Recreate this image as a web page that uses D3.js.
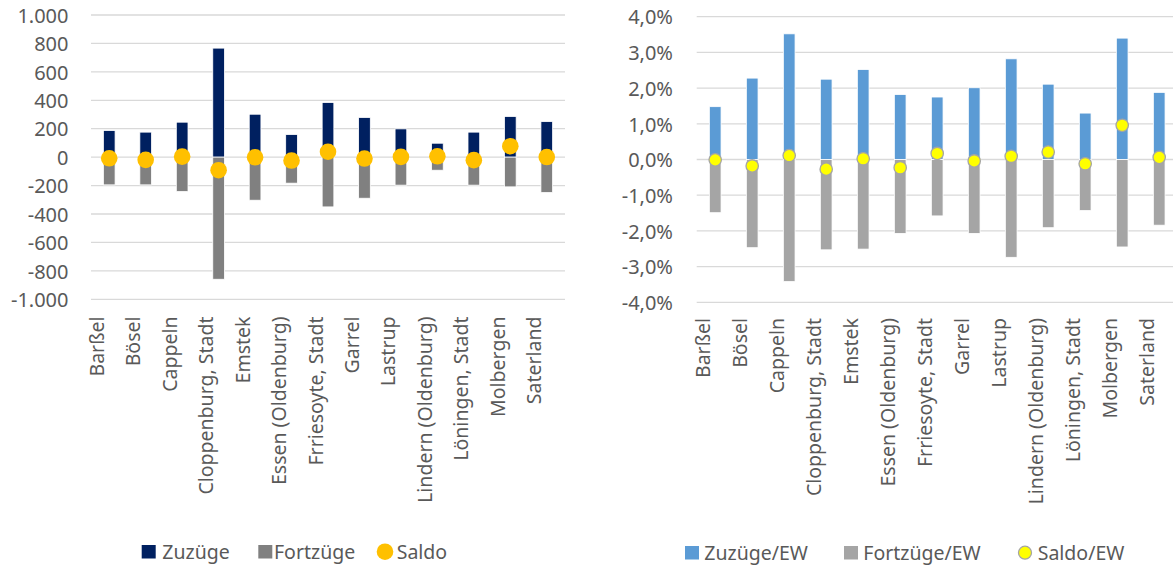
<!DOCTYPE html>
<html>
<head>
<meta charset="utf-8">
<script src="https://cdn.jsdelivr.net/npm/d3@7/dist/d3.min.js"></script>
<style>
  html, body { margin: 0; padding: 0; background: #fff; }
  svg { display: block; font-family: "Noto Sans", "Open Sans", sans-serif; }
</style>
</head>
<body>
<svg id="chart" width="1173" height="566"></svg>
<script>
// Gemeinden im Landkreis Cloppenburg
const gemeinden = ["Barßel", "Bösel", "Cappeln", "Cloppenburg, Stadt", "Emstek",
  "Essen (Oldenburg)", "Frriesoyte, Stadt", "Garrel", "Lastrup",
  "Lindern (Oldenburg)", "Löningen, Stadt", "Molbergen", "Saterland"];

// Absolute Wanderungen (Personen)
const zuzuege   = [187, 176, 246, 767, 302, 159, 384, 279, 199, 98, 176, 286, 250];
const fortzuege = [-195, -195, -242, -859, -303, -183, -350, -289, -197, -92, -197, -209, -249];
const saldo     = [-8, -19, 4, -92, -1, -24, 38, -10, 2, 6, -21, 77, 1];

// Wanderungen je Einwohner
const zuzuegeEW   = [0.0148, 0.0228, 0.0352, 0.0225, 0.0252, 0.0182, 0.0175, 0.0201, 0.0282, 0.0211, 0.0130, 0.0340, 0.0188];
const fortzuegeEW = [-0.0149, -0.0247, -0.0342, -0.0253, -0.0251, -0.0207, -0.0158, -0.0207, -0.0274, -0.0191, -0.0143, -0.0245, -0.0184];
const saldoEW     = [-0.0001, -0.0018, 0.0011, -0.0027, 0.0002, -0.0023, 0.0017, -0.0004, 0.0009, 0.0021, -0.0012, 0.0096, 0.0006];

// Achsenbeschriftung
const ticksAbs = [-1000, -800, -600, -400, -200, 0, 200, 400, 600, 800, 1000];
const ticksEW  = [-0.04, -0.03, -0.02, -0.01, 0, 0.01, 0.02, 0.03, 0.04];

const legendAbs = ["Zuzüge", "Fortzüge", "Saldo"];
const legendEW  = ["Zuzüge/EW", "Fortzüge/EW", "Saldo/EW"];

const de = d3.formatLocale({ decimal: ",", thousands: ".", grouping: [3], currency: ["", " €"], minus: "-" });
const fmtAbs = de.format(",d");
const fmtPct = de.format(".1%");

const svg = d3.select("#chart");
const textColor = "#595959";
const gridColor = "#d9d9d9";

function drawPanel(cfg) {
  const g = svg.append("g");
  const x = d3.scaleBand().domain(gemeinden).range(cfg.xRange).paddingInner(0).paddingOuter(0);
  const y = d3.scaleLinear().domain(cfg.yDomain).range(cfg.yRange);
  const barW = 11.7;

  // Gitternetzlinien
  g.append("g").selectAll("line").data(cfg.ticks).join("line")
    .attr("x1", cfg.xRange[0]).attr("x2", cfg.xRange[1])
    .attr("y1", d => y(d)).attr("y2", d => y(d))
    .attr("stroke", gridColor).attr("stroke-width", 1.3);

  // y-Achse
  const yAxis = d3.axisLeft(y).tickValues(cfg.ticks).tickFormat(cfg.fmt).tickSize(0).tickPadding(0);
  const ya = g.append("g").attr("transform", `translate(${cfg.labelX},0)`).call(yAxis);
  ya.select(".domain").remove();
  ya.selectAll("text").attr("fill", textColor).attr("font-size", 20)
    .attr("font-family", "Noto Sans").attr("dy", "0.36em");

  // Balken: Zuzüge (positiv) und Fortzüge (negativ)
  g.append("g").selectAll("rect").data(gemeinden).join("rect")
    .attr("x", d => x(d) + x.bandwidth() / 2 - barW / 2)
    .attr("width", barW)
    .attr("y", (d, i) => y(cfg.pos[i]))
    .attr("height", (d, i) => y(0) - y(cfg.pos[i]))
    .attr("fill", cfg.colors[0]).attr("stroke", "#fff").attr("stroke-width", 0.8);
  g.append("g").selectAll("rect").data(gemeinden).join("rect")
    .attr("x", d => x(d) + x.bandwidth() / 2 - barW / 2)
    .attr("width", barW)
    .attr("y", y(0))
    .attr("height", (d, i) => y(cfg.neg[i]) - y(0))
    .attr("fill", cfg.colors[1]).attr("stroke", "#fff").attr("stroke-width", 0.8);

  // Saldo-Punkte
  g.append("g").selectAll("circle").data(gemeinden).join("circle")
    .attr("cx", d => x(d) + x.bandwidth() / 2)
    .attr("cy", (d, i) => y(cfg.net[i]))
    .attr("r", cfg.dotR)
    .attr("fill", cfg.colors[2])
    .attr("stroke", cfg.dotStroke || "none")
    .attr("stroke-width", cfg.dotStroke ? 1.3 : 0);

  // Kategorien, senkrecht
  g.append("g").selectAll("text").data(gemeinden).join("text")
    .attr("transform", d => `translate(${x(d) + x.bandwidth() / 2 - 5.5},${cfg.catY}) rotate(-90)`)
    .attr("text-anchor", "end")
    .attr("fill", textColor).attr("font-size", 19.5)
    .text(d => d);

  // Legende
  const lg = g.append("g");
  cfg.legend.forEach((name, i) => {
    const lx = cfg.legendX[i];
    if (i < 2) {
      lg.append("rect").attr("x", lx).attr("y", cfg.legendY - 13.5).attr("width", 14).attr("height", 13.5)
        .attr("fill", cfg.colors[i]);
    } else {
      lg.append("circle").attr("cx", lx + cfg.legendR).attr("cy", cfg.legendY - 6.8).attr("r", cfg.legendR)
        .attr("fill", cfg.colors[2])
        .attr("stroke", cfg.dotStroke || "none").attr("stroke-width", cfg.dotStroke ? 1.3 : 0);
    }
    lg.append("text").attr("x", cfg.legendTextX[i]).attr("y", cfg.legendY)
      .attr("fill", textColor).attr("font-size", 19.5).text(name);
  });
}

drawPanel({
  xRange: [91, 565], yDomain: [-1000, 1000], yRange: [299.3, 15],
  ticks: ticksAbs, fmt: fmtAbs, labelX: 68.5,
  pos: zuzuege, neg: fortzuege, net: saldo,
  colors: ["#002060", "#808080", "#FFC000"], dotR: 8.3,
  catY: 316.5,
  legend: legendAbs, legendX: [141.7, 258.3, 376.7], legendTextX: [162.3, 274, 396.7],
  legendY: 558.5, legendR: 8.3
});

drawPanel({
  xRange: [696.7, 1177.7], yDomain: [-0.04, 0.04], yRange: [302.3, 16.7],
  ticks: ticksEW, fmt: fmtPct, labelX: 673,
  pos: zuzuegeEW, neg: fortzuegeEW, net: saldoEW,
  colors: ["#5B9BD5", "#A5A5A5", "#FFFF00"], dotR: 6.2, dotStroke: "#a5a5a5",
  catY: 318,
  legend: legendEW, legendX: [685, 844, 1018.5], legendTextX: [704.3, 863.3, 1037.7],
  legendY: 559.5, legendR: 6.5
});
</script>
</body>
</html>
